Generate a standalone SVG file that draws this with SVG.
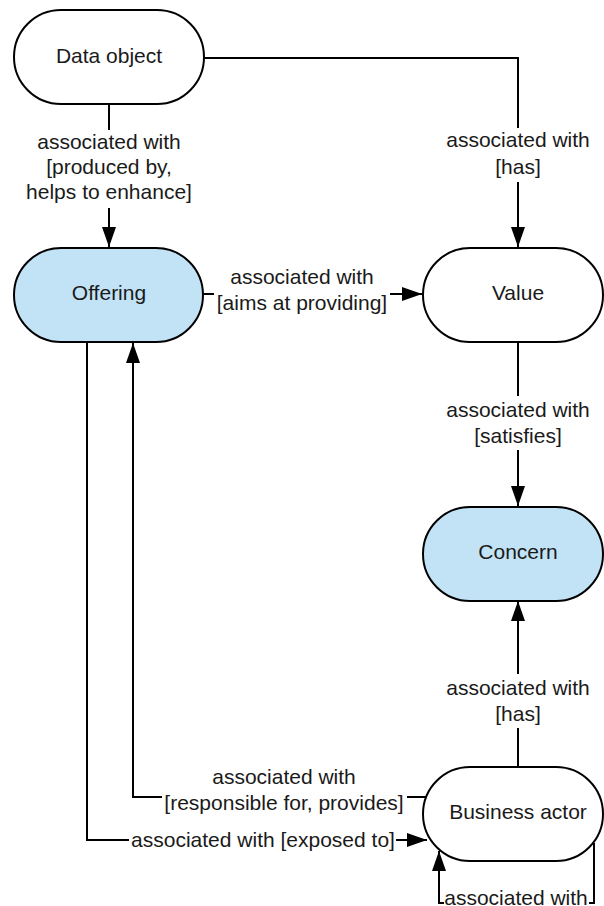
<svg xmlns="http://www.w3.org/2000/svg" width="604" height="906" viewBox="0 0 604 906">
  <style>
    .node { stroke: #000; stroke-width: 2; fill: #fff; }
    .node.blue { fill: #c2e3f5; }
    .edge { stroke: #000; stroke-width: 2; fill: none; }
    text { font-family: "Liberation Sans", Arial, sans-serif; font-size: 21px; fill: #1a1a1a; text-anchor: middle; }
  </style>
  <defs>
    <marker id="arrow" viewBox="0 0 20 14" refX="20" refY="7" markerWidth="20" markerHeight="14" markerUnits="userSpaceOnUse" orient="auto">
      <path d="M0,0 L20,7 L0,14 Z" fill="#000"/>
    </marker>
  </defs>

  <g id="connectors">
    <!-- Data object -> Offering -->
    <path class="edge" d="M109,104 V130"/>
    <path class="edge" d="M109,208 V247" marker-end="url(#arrow)"/>
    <text x="109" y="149">associated with</text>
    <text x="109" y="174">[produced by,</text>
    <text x="109" y="199">helps to enhance]</text>

    <!-- Data object -> Value -->
    <path class="edge" d="M204,58 H518 V128"/>
    <path class="edge" d="M518,182 V247" marker-end="url(#arrow)"/>
    <text x="518" y="147">associated with</text>
    <text x="518" y="174">[has]</text>

    <!-- Offering -> Value -->
    <path class="edge" d="M203,294 H214"/>
    <path class="edge" d="M390,294 H422" marker-end="url(#arrow)"/>
    <text x="302" y="284">associated with</text>
    <text x="302" y="310">[aims at providing]</text>

    <!-- Value -> Concern -->
    <path class="edge" d="M518,342 V396"/>
    <path class="edge" d="M518,450 V506" marker-end="url(#arrow)"/>
    <text x="518" y="417">associated with</text>
    <text x="518" y="443">[satisfies]</text>

    <!-- Business actor -> Concern -->
    <path class="edge" d="M518,767 V728"/>
    <path class="edge" d="M518,674 V601" marker-end="url(#arrow)"/>
    <text x="518" y="695">associated with</text>
    <text x="518" y="721">[has]</text>

    <!-- Business actor -> Offering -->
    <path class="edge" d="M427,797 H407"/>
    <path class="edge" d="M162,797 H133 V343" marker-end="url(#arrow)"/>
    <text x="284" y="784">associated with</text>
    <text x="284" y="810">[responsible for, provides]</text>

    <!-- Offering -> Business actor -->
    <path class="edge" d="M87,342 V840 H129"/>
    <path class="edge" d="M396,840 H427" marker-end="url(#arrow)"/>
    <text x="263" y="847">associated with [exposed to]</text>

    <!-- Business actor self association -->
    <path class="edge" d="M594,843 V903 H589"/>
    <path class="edge" d="M444,903 H439 V851" marker-end="url(#arrow)"/>
    <text x="516" y="905">associated with</text>
  </g>

  <g id="data-object">
    <rect class="node" x="14" y="10" width="190" height="94" rx="47"/>
    <text x="109" y="63">Data object</text>
  </g>
  <g id="offering">
    <rect class="node blue" x="14" y="248" width="189" height="94" rx="47"/>
    <text x="109" y="300">Offering</text>
  </g>
  <g id="value">
    <rect class="node" x="423" y="248" width="180" height="94" rx="47"/>
    <text x="518" y="300">Value</text>
  </g>
  <g id="concern">
    <rect class="node blue" x="423" y="507" width="180" height="94" rx="47"/>
    <text x="518" y="559">Concern</text>
  </g>
  <g id="business-actor">
    <rect class="node" x="423" y="767" width="180" height="94" rx="47"/>
    <text x="518" y="819">Business actor</text>
  </g>
</svg>
